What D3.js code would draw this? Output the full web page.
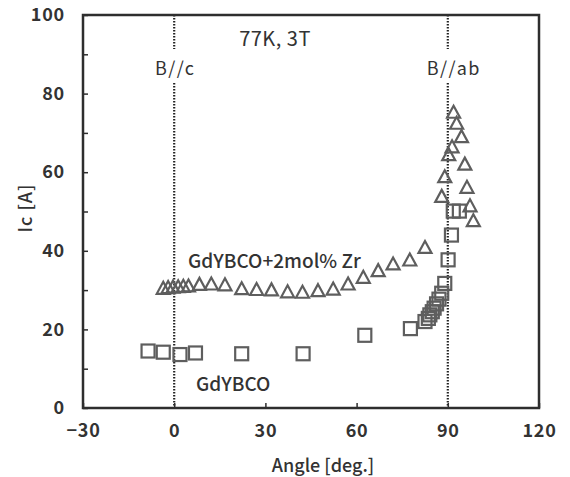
<!DOCTYPE html>
<html>
<head>
<meta charset="utf-8">
<script src="https://cdn.jsdelivr.net/npm/d3@7/dist/d3.min.js"></script>
<style>
  html, body { margin: 0; padding: 0; background: #fff; }
  svg { display: block; }
  text { font-family: "Noto Sans CJK JP", "Liberation Sans", sans-serif; fill: #333; }
</style>
</head>
<body>
<svg id="chart" width="570" height="477"></svg>
<script>
// Axis ticks
const xTicks = [-30, 0, 30, 60, 90, 120];
const yTicks = [0, 20, 40, 60, 80, 100];
const yMinorTicks = [10, 30, 50, 70, 90];

// GdYBCO+2mol% Zr (triangles): field angle [deg.] and Ic [A]
const zrAngle = [-3.6, -2.0, -0.4, 1.3, 3.0, 4.7, 8.3, 12.2, 16.7, 22.2, 27.1, 32.0, 37.3, 42.2, 47.3, 52.3,
                 57.2, 62.2, 67.1, 72.0, 77.5, 82.5, 88.0, 89.0, 90.3, 91.4, 91.9, 92.9, 94.5, 95.6, 96.3, 97.3, 98.4];
const zrIc    = [30.2, 30.4, 30.5, 30.6, 30.7, 30.8, 31.2, 31.3, 31.1, 30.1, 29.9, 29.8, 29.3, 29.2, 29.6, 30.0,
                 31.3, 33.0, 34.7, 36.4, 37.4, 40.6, 53.6, 58.6, 64.2, 66.2, 75.0, 72.2, 68.8, 61.8, 55.9, 51.2, 47.4];

// GdYBCO (squares)
const baseAngle = [-8.6, -3.6, 1.9, 7.0, 22.2, 42.4, 62.7, 77.7, 82.5, 83.6, 84.1, 84.9, 85.5, 86.3, 87.1,
                   88.0, 89.0, 90.1, 91.2, 91.8, 93.8];
const baseIc    = [14.5, 14.2, 13.6, 14.0, 13.8, 13.8, 18.5, 20.2, 22.0, 22.8, 23.7, 24.5, 25.4, 26.5, 27.7,
                   29.2, 31.7, 37.7, 44.0, 50.1, 50.1];

// Reference field directions
const refAngles = [0, 90];
const refLabels = ["B//c", "B//ab"];

const svg = d3.select("#chart");
const m = { left: 83, top: 15, right: 539, bottom: 408 };

const x = d3.scaleLinear().domain([-30, 120]).range([m.left, m.right]);
const y = d3.scaleLinear().domain([0, 100]).range([m.bottom, m.top]);

const ink = "#2e2e2e";
const markInk = "#5e5e5e";

// Dotted reference lines, broken around their labels
const dotted = svg.append("g");
refAngles.forEach(a => {
  [[m.top, 49], [83, m.bottom]].forEach(([y0, y1]) => {
    dotted.append("line")
      .attr("x1", x(a)).attr("x2", x(a))
      .attr("y1", y0).attr("y2", y1)
      .attr("stroke", "#222").attr("stroke-width", 2.2)
      .attr("stroke-dasharray", "1.6,1.4");
  });
});
svg.append("g").selectAll("text").data(refAngles).join("text")
  .attr("x", (d, i) => x(d) + (i === 0 ? 1 : 6))
  .attr("y", 75)
  .attr("text-anchor", "middle")
  .attr("font-size", 18)
  .attr("letter-spacing", 1.5)
  .text((d, i) => refLabels[i]);

// Axes with inward ticks
const xAxis = svg.append("g")
  .attr("transform", `translate(0,${m.bottom})`)
  .call(d3.axisBottom(x).tickValues(xTicks).tickSize(-5).tickPadding(16)
    .tickFormat(d => d < 0 ? "\u2212" + Math.abs(d) : d));
const yAxis = svg.append("g")
  .attr("transform", `translate(${m.left},0)`)
  .call(d3.axisLeft(y).tickValues(yTicks).tickSize(-5).tickPadding(18));
svg.append("g")
  .attr("transform", `translate(${m.left},0)`)
  .call(d3.axisLeft(y).tickValues(yMinorTicks).tickSize(-5).tickFormat(""))
  .call(g => g.select(".domain").remove());

[xAxis, yAxis].forEach(g => {
  g.select(".domain").remove();
  g.selectAll(".tick text")
    .attr("font-size", 18).attr("font-weight", 700)
    .attr("letter-spacing", 0.8)
    .attr("fill", ink)
    .style("font-family", "'Noto Sans CJK JP', 'Liberation Sans', sans-serif");
});
svg.selectAll(".tick line").attr("stroke", ink).attr("stroke-width", 1.5);

// Plot frame
svg.append("rect")
  .attr("x", m.left).attr("y", m.top)
  .attr("width", m.right - m.left).attr("height", m.bottom - m.top)
  .attr("fill", "none").attr("stroke", ink).attr("stroke-width", 2.5);

// Markers
const tri = "M0,-7.5L6.5,4.5L-6.5,4.5Z";
svg.append("g").selectAll("path").data(zrAngle).join("path")
  .attr("d", tri)
  .attr("transform", (d, i) => `translate(${x(d)},${y(zrIc[i])})`)
  .attr("fill", "none").attr("stroke", markInk).attr("stroke-width", 2.2);

svg.append("g").selectAll("rect").data(baseAngle).join("rect")
  .attr("x", d => x(d) - 6.5)
  .attr("y", (d, i) => y(baseIc[i]) - 6.5)
  .attr("width", 13).attr("height", 13)
  .attr("fill", "none").attr("stroke", markInk).attr("stroke-width", 2.2);

// Annotations
svg.append("text").attr("x", 275).attr("y", 46).attr("text-anchor", "middle")
  .attr("font-size", 20).attr("letter-spacing", 0.5).text("77K, 3T");
svg.append("text").attr("x", 188).attr("y", 268)
  .attr("font-size", 19).attr("font-weight", 500).text("GdYBCO+2mol% Zr");
svg.append("text").attr("x", 196).attr("y", 391)
  .attr("font-size", 19).attr("font-weight", 500).text("GdYBCO");

// Axis titles
svg.append("text").attr("x", 323).attr("y", 472).attr("text-anchor", "middle")
  .attr("font-size", 18).attr("font-weight", 500).text("Angle [deg.]");
svg.append("text")
  .attr("transform", `translate(32,${208}) rotate(-90)`)
  .attr("text-anchor", "middle")
  .attr("font-size", 18).attr("font-weight", 500).attr("letter-spacing", 1)
  .text("Ic  [A]");
</script>
</body>
</html>
